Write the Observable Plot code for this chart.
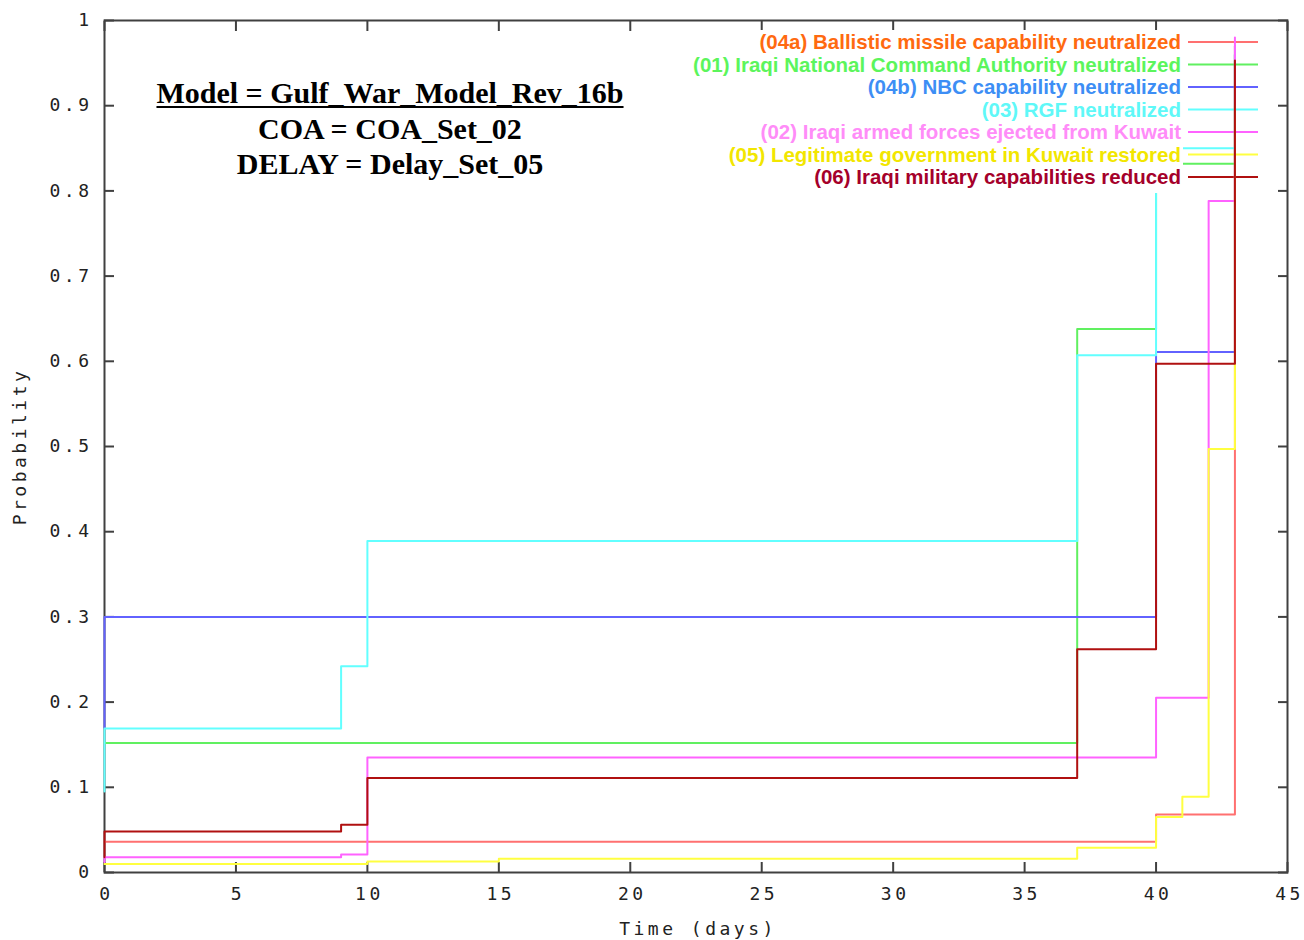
<!DOCTYPE html>
<html><head><meta charset="utf-8">
<script src="https://cdn.jsdelivr.net/npm/d3@7"></script>
<script src="https://cdn.jsdelivr.net/npm/@observablehq/plot@0.6"></script>
<style>body{margin:0;background:#fff;} #chart{width:1304px;height:940px;}</style>
</head><body><div id="chart"></div>
<script>
// ---- data ----
const seriesNames = [
  "(04a) Ballistic missile capability neutralized",
  "(01) Iraqi National Command Authority neutralized",
  "(04b) NBC capability neutralized",
  "(03) RGF neutralized",
  "(02) Iraqi armed forces ejected from Kuwait",
  "(05) Legitimate government in Kuwait restored",
  "(06) Iraqi military capabilities reduced"
];
const lineColors = ["#ff7070", "#60f060", "#6262ff", "#62ffff", "#ff62ff", "#ffff40", "#b01010"];
const textColors = ["#ff6a10", "#5cf55c", "#3d8ef5", "#5ff8f8", "#ff8cf8", "#f2e600", "#a5002a"];

const t04a = [0, 40, 43];
const v04a = [0.036, 0.068, 0.97];
const t01 = [0, 37, 40, 43];
const v01 = [0.152, 0.638, 0.832, 0.96];
const t04b = [0, 0, 40, 43];
const v04b = [0.169, 0.300, 0.611, 0.96];
const t03 = [0, 0, 9, 10, 37, 40, 43];
const v03 = [0.095, 0.169, 0.242, 0.389, 0.607, 0.850, 0.97];
const t02 = [0, 0, 9, 10, 40, 42, 43];
const v02 = [0.012, 0.018, 0.021, 0.135, 0.205, 0.788, 0.980];
const t05 = [0, 10, 15, 37, 40, 41, 42, 43];
const v05 = [0.010, 0.013, 0.016, 0.029, 0.065, 0.089, 0.497, 0.90];
const t06 = [0, 0, 9, 10, 37, 40, 43];
const v06 = [0.018, 0.048, 0.056, 0.111, 0.262, 0.597, 0.953];

const xTicks = [0, 5, 10, 15, 20, 25, 30, 35, 40, 45];
const yTicks = [0, 0.1, 0.2, 0.3, 0.4, 0.5, 0.6, 0.7, 0.8, 0.9, 1];
const titleLines = ["Model = Gulf_War_Model_Rev_16b", "COA = COA_Set_02", "DELAY = Delay_Set_05"];
const xLabel = "Time (days)";
const yLabel = "Probability";

// ---- build ----
const seriesT = [t04a, t01, t04b, t03, t02, t05, t06];
const seriesV = [v04a, v01, v04b, v03, v02, v05, v06];
const series = seriesNames.map((name, k) => ({
  name, stroke: lineColors[k], text: textColors[k],
  rows: seriesT[k].map((t, i) => ({t, v: seriesV[k][i]}))
}));

const W = 1304, H = 940, ML = 104, MR = 17, MT = 20, MB = 68;
const axisColor = "#404040";
const yFmt = d => d === 0 ? "0" : d === 1 ? "1" : d.toFixed(1);

const plot = Plot.plot({
  width: W, height: H,
  marginLeft: ML, marginRight: MR, marginTop: MT, marginBottom: MB,
  x: {domain: [0, 45]},
  y: {domain: [0, 1]},
  style: {fontFamily: "DejaVu Sans Mono", fontSize: "18px", letterSpacing: "3.5px", color: "#222", background: "white"},
  marks: [
    Plot.frame({stroke: axisColor, strokeWidth: 2}),
    Plot.axisX({ticks: xTicks, tickSize: 10, dy: -10, fill: "none", label: null, stroke: axisColor, strokeWidth: 2}),
    Plot.axisX({anchor: "top", ticks: xTicks, tickSize: 10, dy: 10, fill: "none", label: null, stroke: axisColor, strokeWidth: 2}),
    Plot.axisY({ticks: yTicks, tickSize: 10, dx: 10, fill: "none", label: null, stroke: axisColor, strokeWidth: 2}),
    Plot.axisY({anchor: "right", ticks: yTicks, tickSize: 10, dx: -10, fill: "none", label: null, stroke: axisColor, strokeWidth: 2}),
    Plot.axisX({ticks: xTicks, tickSize: 0, tickPadding: 15, label: null, tickFormat: d => String(d), fill: "#222", dx: 2}),
    Plot.axisY({ticks: yTicks, tickSize: 0, tickPadding: 12, label: null, tickFormat: yFmt, fill: "#222"}),
    Plot.text([xLabel], {frameAnchor: "bottom", dy: 57, lineAnchor: "middle", textAnchor: "middle", fill: "#222", dx: 2}),
    Plot.text([yLabel], {frameAnchor: "left", dx: -84, rotate: -90, lineAnchor: "middle", textAnchor: "middle", fill: "#222"}),
    ...series.map(s => Plot.line(s.rows, {x: "t", y: "v", curve: "step-after", stroke: s.stroke, strokeWidth: 2}))
  ]
});
document.getElementById("chart").appendChild(plot);

// ---- legend & title overlays ----
const svg = d3.select(plot);
const rowY0 = 42, rowStep = 22.5, textRight = 1181, sampleX1 = 1188, sampleX2 = 1258;

// legend samples beneath the data lines
const samples = svg.insert("g", "g[aria-label='line']");
series.forEach((s, i) => {
  samples.append("line").attr("x1", sampleX1).attr("x2", sampleX2)
    .attr("y1", rowY0 + i * rowStep).attr("y2", rowY0 + i * rowStep)
    .attr("stroke", s.stroke).attr("stroke-width", 2);
});

// opaque legend text box above the data
const lg = svg.append("g").attr("font-family", "Liberation Sans, Arial, sans-serif")
  .attr("font-weight", "bold").attr("font-size", 20.5).attr("letter-spacing", 0);
const box = lg.append("rect").attr("fill", "white");
let minX = textRight;
series.forEach((s, i) => {
  const t = lg.append("text").attr("x", textRight).attr("y", rowY0 + i * rowStep + 7)
    .attr("text-anchor", "end").attr("fill", s.text).text(s.name);
  minX = Math.min(minX, textRight - t.node().getComputedTextLength());
});
box.attr("x", minX - 3).attr("y", 30).attr("width", textRight + 2 - (minX - 3)).attr("height", 163);

// title block
const tg = svg.append("g").attr("font-family", "Liberation Serif, Times New Roman, serif")
  .attr("font-weight", "bold").attr("font-size", 30).attr("letter-spacing", 0).attr("fill", "#000");
const baselines = [103, 139, 174];
titleLines.forEach((line, i) => {
  const t = tg.append("text").attr("x", 390).attr("y", baselines[i]).attr("text-anchor", "middle").text(line);
  if (i === 0) {
    const w = t.node().getComputedTextLength();
    tg.append("line").attr("x1", 390 - w / 2).attr("x2", 390 + w / 2)
      .attr("y1", baselines[i] + 4).attr("y2", baselines[i] + 4)
      .attr("stroke", "#000").attr("stroke-width", 2);
  }
});
</script>
</body></html>
